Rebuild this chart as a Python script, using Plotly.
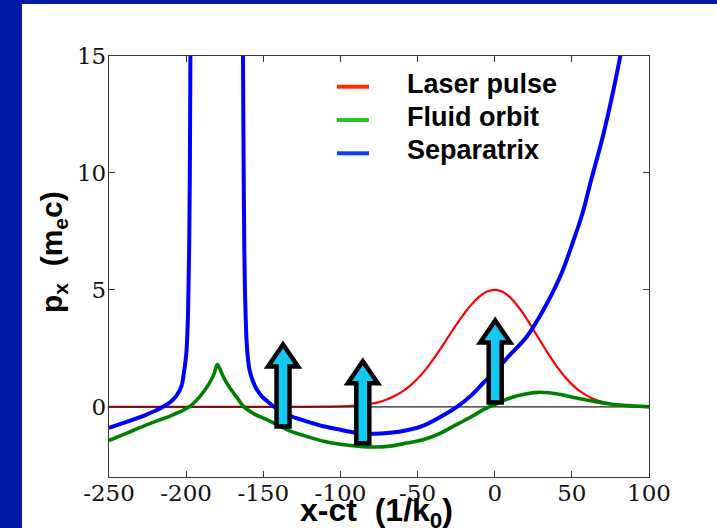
import plotly.graph_objects as go

# Axis ranges and tick labels
X_RANGE = [-250, 100]
Y_RANGE = [-3, 15]
x_ticks = [-250, -200, -150, -100, -50, 0, 50, 100]
x_tick_text = ["-250", "-200", "-150", "-100", "-50", "0", "50", "100"]
y_ticks = [0, 5, 10, 15]
y_tick_text = ["0", "5", "10", "15"]

# Laser pulse envelope
laser_x = [-250, -200, -150, -100, -90, -85, -80, -75, -70, -65, -60, -55, -50, -45,
           -40, -35, -30, -25, -20, -15, -10, -5, 0, 5, 10, 15, 20, 25, 30, 35, 40,
           45, 50, 55, 60, 65, 70, 75, 80, 85, 90, 100]
laser_y = [0, 0, 0, 0.02, 0.05, 0.08, 0.13, 0.2, 0.31, 0.46, 0.65, 0.9, 1.2, 1.58,
           2.02, 2.5, 3.0, 3.5, 3.97, 4.38, 4.71, 4.93, 5.0, 4.92, 4.68, 4.3, 3.84, 3.3, 2.77, 2.24, 1.75,
           1.32, 0.96, 0.68, 0.47, 0.31, 0.2, 0.12, 0.07, 0.04, 0.02, 0.0]

# Fluid orbit
fluid_x = [-250, -242, -234, -226, -218, -212, -205, -198, -191, -185, -182, -179.8,
           -178, -176, -173, -169.4, -166, -163, -156, -148, -140, -132.6, -126,
           -111, -100, -89, -78, -68, -57, -46, -35, -24.5, -15, -7.3, 0, 10, 20,
           28, 35, 42.5, 53, 64, 75, 86, 100]
fluid_y = [-1.44, -1.22, -1.0, -0.78, -0.58, -0.44, -0.24, 0.0, 0.45, 1.0, 1.4, 1.81,
           1.6, 1.3, 0.95, 0.6, 0.3, 0.03, -0.3, -0.54, -0.8, -1.04, -1.18,
           -1.47, -1.6, -1.68, -1.72, -1.68, -1.55, -1.4, -1.12, -0.75, -0.42, -0.12, 0.1, 0.38, 0.55,
           0.62, 0.6, 0.53, 0.38, 0.24, 0.12, 0.05, 0.0]

# Separatrix: two branches split by the singular region
sep_left_x = [-250, -242, -234, -226, -220, -215, -210, -206, -203, -201.8, -200,
              -199, -198.5, -198, -197.6, -197.2]
sep_left_y = [-0.9, -0.72, -0.54, -0.34, -0.17, 0.0, 0.22, 0.5, 0.9, 1.3, 2.2,
              3.5, 5.0, 7.0, 10.0, 15.5]
sep_right_x = [-163.2, -162.9, -162.6, -162.3, -161.9, -161.4, -160.8, -160, -158.8,
               -157, -154.2, -150.5, -147, -143, -138, -132.6, -126, -118, -111, -100,
               -89.4, -78, -67.8, -57, -46.2, -35, -24.5, -15, -7.3, 0, 10, 21, 31.7,
               42.5, 51, 57, 62, 70.6, 77, 81.4, 84]
sep_right_y = [15.5, 12.0, 9.0, 6.7, 5.0, 3.8, 2.8, 2.1, 1.55,
               1.15, 0.74, 0.42, 0.22, 0.0, -0.18, -0.38, -0.54, -0.7, -0.83, -0.98,
               -1.11, -1.15, -1.11, -1.0, -0.8, -0.42, 0.0, 0.5, 1.03, 1.5, 2.23, 3.02, 4.16,
               5.58, 7.1, 8.3, 9.57, 11.7, 13.56, 15.0, 16.0]

# Momentum-kick arrows (base position of each arrow)
arrow_x = [-137.2, -85.5, 0.3]
arrow_y = [-0.93, -1.64, 0.1]

# Legend entries
legend_names = ["Laser pulse", "Fluid orbit", "Separatrix"]
legend_colors = ["#ff2a00", "#1ecb1e", "#0a3cff"]

FRAME_BLUE = "#021ba6"
L, R, T, B = 109, 68, 56, 51
W, H = 717, 528
PW, PH = W - L - R, H - T - B


def px_x(p):
    return (p - L) / PW


def px_y(p):
    return (H - B - p) / PH


fig = go.Figure()
fig.add_trace(go.Scatter(x=laser_x, y=laser_y, mode="lines", name=legend_names[0],
                         line=dict(color="#ff0000", width=2.2, shape="spline", smoothing=1.0),
                         showlegend=False))
fig.add_trace(go.Scatter(x=X_RANGE, y=[0, 0], mode="lines",
                         line=dict(color="#222222", width=1.1), showlegend=False,
                         hoverinfo="skip"))
fig.add_trace(go.Scatter(x=fluid_x, y=fluid_y, mode="lines", name=legend_names[1],
                         line=dict(color="#008000", width=3.6, shape="spline", smoothing=1.0),
                         showlegend=False))
fig.add_trace(go.Scatter(x=sep_left_x + [None] + sep_right_x,
                         y=sep_left_y + [None] + sep_right_y,
                         mode="lines", name=legend_names[2], connectgaps=False,
                         line=dict(color="#0000ff", width=4, shape="spline", smoothing=1.0),
                         showlegend=False))

shapes = []
# Slide frame strips
shapes.append(dict(type="rect", xref="paper", yref="paper", layer="below",
                   x0=px_x(-5), x1=px_x(22), y0=px_y(H + 5), y1=px_y(-5),
                   fillcolor=FRAME_BLUE, line=dict(width=0)))
shapes.append(dict(type="rect", xref="paper", yref="paper", layer="below",
                   x0=px_x(-5), x1=px_x(W + 5), y0=px_y(4), y1=px_y(-5),
                   fillcolor=FRAME_BLUE, line=dict(width=0)))

# Arrows, sized in pixels and anchored in data coordinates
arrow_path = "M -6.5,2 L 6.5,2 L 6.5,62 L 15,62 L 0,84 L -15,62 L -6.5,62 Z"
for ax, ay in zip(arrow_x, arrow_y):
    shapes.append(dict(type="path", xref="x", yref="y", xsizemode="pixel",
                       ysizemode="pixel", xanchor=ax, yanchor=ay, path=arrow_path,
                       fillcolor="#12c9f2", line=dict(color="#000000", width=4.5)))

# Legend samples
legend_line_y = [86.7, 120, 153.3]
annotations = []
for name, color, ly in zip(legend_names, legend_colors, legend_line_y):
    shapes.append(dict(type="line", xref="paper", yref="paper",
                       x0=px_x(337), x1=px_x(369), y0=px_y(ly), y1=px_y(ly),
                       line=dict(color=color, width=4)))
    annotations.append(dict(text="<b>%s</b>" % name, xref="paper", yref="paper",
                            x=px_x(405), y=px_y(ly - 3), xanchor="left", yanchor="middle",
                            showarrow=False,
                            font=dict(family="Liberation Sans", size=27, color="#000000")))

# Axis titles
annotations.append(dict(text="<b>x-ct\u00a0 (1/k<sub>0</sub>)</b>", xref="paper", yref="paper",
                        x=px_x(376), y=px_y(512), xanchor="center", yanchor="middle",
                        showarrow=False,
                        font=dict(family="Liberation Sans", size=32, color="#000000")))
annotations.append(dict(text="<b>p<sub>x</sub>\u00a0 (m<sub>e</sub>c)</b>", xref="paper",
                        yref="paper", x=px_x(53), y=px_y(252), xanchor="center",
                        yanchor="middle", textangle=-90, showarrow=False,
                        font=dict(family="Liberation Sans", size=30, color="#000000")))

axis_common = dict(showgrid=False, zeroline=False, showline=True, linecolor="#333333",
                   linewidth=1.4, mirror="ticks", ticks="inside", ticklen=6,
                   tickwidth=1, tickcolor="#333333",
                   tickfont=dict(family="DejaVu Serif", size=23, color="#111111"))

fig.update_layout(
    width=W, height=H, autosize=False,
    margin=dict(l=L, r=R, t=T, b=B, pad=0),
    paper_bgcolor="#ffffff", plot_bgcolor="#ffffff",
    xaxis=dict(range=X_RANGE, tickmode="array", tickvals=x_ticks, ticktext=x_tick_text,
               ticklabelstandoff=-5, **axis_common),
    yaxis=dict(range=Y_RANGE, tickmode="array", tickvals=y_ticks, ticktext=y_tick_text,
               ticklabelstandoff=-3, **axis_common),
    shapes=shapes, annotations=annotations, showlegend=False,
)

fig.write_html("out.html")
